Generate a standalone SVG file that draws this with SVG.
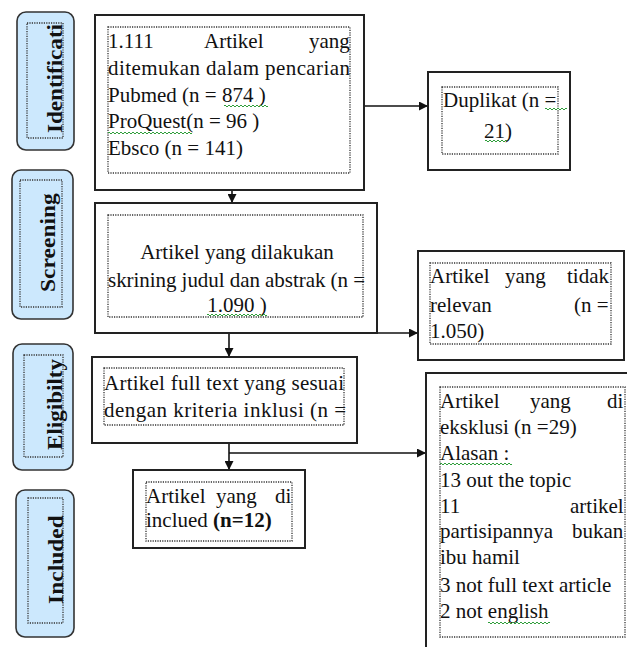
<svg xmlns="http://www.w3.org/2000/svg" width="627" height="647" viewBox="0 0 627 647">
<style>
.box{fill:#fff;stroke:#222;stroke-width:2}
.dot{fill:none;stroke:#333;stroke-width:1.3;stroke-dasharray:1.2 1.2}
.side{fill:#cce8fd;stroke:#333;stroke-width:1.6}
.t{font-family:"Liberation Serif","Times New Roman",serif;font-size:21px;fill:#111}
.lab{font-family:"Liberation Serif","Times New Roman",serif;font-size:21px;font-weight:bold;fill:#111}
.conn{stroke:#111;stroke-width:1.6;fill:none}
.sq{stroke:#2e9e3a;stroke-width:1;fill:none}
</style>
<defs>
<marker id="ah" viewBox="0 0 10 10" refX="10" refY="5" markerUnits="userSpaceOnUse" markerWidth="10" markerHeight="9" orient="auto">
<path d="M0,0 L10,5 L0,10 z" fill="#111"/>
</marker>
</defs>

<g id="label-identification">
<rect class="side" x="17" y="12" width="57" height="138" rx="9"/>
<rect class="dot" x="27" y="23" width="36" height="115"/>
<text class="lab" transform="translate(62,133) rotate(-90) scale(1.1,1)">Identificati</text>
</g>
<g id="label-screening">
<rect class="side" x="12" y="170" width="61" height="149" rx="9"/>
<rect class="dot" x="20" y="180" width="42" height="127"/>
<text class="lab" transform="translate(55,292) rotate(-90) scale(1.12,1)">Screening</text>
</g>
<g id="label-eligibility">
<rect class="side" x="13" y="344" width="60" height="126" rx="9"/>
<rect class="dot" x="24" y="355" width="39" height="102"/>
<text class="lab" transform="translate(62,450) rotate(-90) scale(1.1,1)">Eligibilty</text>
</g>
<g id="label-included">
<rect class="side" x="16" y="490" width="58" height="147" rx="9"/>
<rect class="dot" x="28" y="498" width="35" height="125"/>
<text class="lab" transform="translate(63,604) rotate(-90) scale(1.12,1)">Included</text>
</g>

<g id="connectors">
<line class="conn" x1="364" y1="106" x2="428" y2="106" marker-end="url(#ah)"/>
<line class="conn" x1="232" y1="190" x2="232" y2="203" marker-end="url(#ah)"/>
<line class="conn" x1="229" y1="317" x2="229" y2="357" marker-end="url(#ah)"/>
<line class="conn" x1="229" y1="333" x2="418" y2="333" marker-end="url(#ah)"/>
<line class="conn" x1="229" y1="443" x2="229" y2="470" marker-end="url(#ah)"/>
<line class="conn" x1="229" y1="453" x2="426" y2="453" marker-end="url(#ah)"/>
</g>

<g id="node-identified">
<rect class="box" x="95" y="15" width="269" height="175"/>
<rect class="dot" x="108" y="27" width="242" height="146"/>
<text class="t" y="48"><tspan x="108">1.111</tspan><tspan x="204">Artikel</tspan><tspan x="309">yang</tspan></text>
<text class="t" x="108" y="75" textLength="242" lengthAdjust="spacing">ditemukan dalam pencarian</text>
<text class="t" x="108" y="102">Pubmed (n = 874 )</text>
<text class="t" x="108" y="128">ProQuest(n = 96 )</text>
<text class="t" x="108" y="155">Ebsco  (n = 141)</text>
<path class="sq" d="M224,106 q1,-2 2,0 t2,0 t2,0 t2,0 t2,0 t2,0 t2,0 t2,0 t2,0 t2,0 t2,0 t2,0 t2,0 t2,0 t2,0 t2,0 t2,0 t2,0 t2,0 t2,0 t2,0 t2,0"/>
<path class="sq" d="M108,133 q1,-2 2,0 t2,0 t2,0 t2,0 t2,0 t2,0 t2,0 t2,0 t2,0 t2,0 t2,0 t2,0 t2,0 t2,0 t2,0 t2,0 t2,0 t2,0 t2,0 t2,0 t2,0 t2,0 t2,0 t2,0 t2,0 t2,0 t2,0 t2,0 t2,0 t2,0 t2,0 t2,0 t2,0 t2,0 t2,0 t2,0 t2,0 t2,0 t2,0 t2,0 t2,0 t2,0"/>
</g>

<g id="node-duplikat">
<rect class="box" x="428" y="72" width="142" height="98"/>
<rect class="dot" x="442" y="87" width="116" height="67"/>
<text class="t" x="443" y="107">Duplikat (n =</text>
<text class="t" x="498" y="138" text-anchor="middle">21)</text>
<path class="sq" d="M545,109 q1,-2 2,0 t2,0 t2,0 t2,0 t2,0 t2,0 t2,0 t2,0 t2,0 t2,0 t2,0"/>
<path class="sq" d="M485,141 q1,-2 2,0 t2,0 t2,0 t2,0 t2,0 t2,0 t2,0 t2,0 t2,0 t2,0 t2,0"/>
</g>

<g id="node-screening">
<rect class="box" x="95" y="203" width="282" height="130"/>
<rect class="dot" x="108" y="215" width="255" height="102"/>
<text class="t" x="237" y="259" text-anchor="middle">Artikel yang dilakukan</text>
<text class="t" x="108" y="287" textLength="257" lengthAdjust="spacing">skrining judul dan abstrak (n =</text>
<text class="t" x="237" y="312" text-anchor="middle">1.090 )</text>
<path class="sq" d="M207,315 q1,-2 2,0 t2,0 t2,0 t2,0 t2,0 t2,0 t2,0 t2,0 t2,0 t2,0 t2,0 t2,0 t2,0 t2,0 t2,0 t2,0 t2,0 t2,0 t2,0 t2,0 t2,0 t2,0 t2,0 t2,0 t2,0 t2,0 t2,0 t2,0 t2,0 t2,0"/>
</g>

<g id="node-irrelevant">
<rect class="box" x="418" y="251" width="206" height="109"/>
<rect class="dot" x="430" y="263" width="181" height="81"/>
<text class="t" y="283"><tspan x="430">Artikel</tspan><tspan x="505">yang</tspan><tspan x="567">tidak</tspan></text>
<text class="t" y="312"><tspan x="430">relevan</tspan><tspan x="574">(n =</tspan></text>
<text class="t" x="430" y="338">1.050)</text>
</g>

<g id="node-eligibility">
<rect class="box" x="92" y="357" width="265" height="86"/>
<rect class="dot" x="104" y="368" width="240" height="57"/>
<text class="t" x="104" y="390" textLength="240" lengthAdjust="spacing">Artikel full text yang sesuai</text>
<text class="t" x="104" y="417" textLength="242" lengthAdjust="spacing">dengan kriteria inklusi (n =</text>
</g>

<g id="node-included">
<rect class="box" x="133" y="470" width="172" height="78"/>
<rect class="dot" x="146" y="482" width="146" height="59"/>
<text class="t" y="503"><tspan x="146">Artikel</tspan><tspan x="216">yang</tspan><tspan x="275">di</tspan></text>
<text class="t" x="146" y="527">inclued <tspan font-weight="bold">(n=12)</tspan></text>
</g>

<g id="node-excluded">
<rect class="box" x="426" y="373" width="220" height="300"/>
<rect class="dot" x="440" y="387" width="185" height="250"/>
<text class="t" y="408"><tspan x="440">Artikel</tspan><tspan x="530">yang</tspan><tspan x="607">di</tspan></text>
<text class="t" x="440" y="434">eksklusi (n =29)</text>
<text class="t" x="440" y="460">Alasan :</text>
<text class="t" x="440" y="487">13 out the topic</text>
<text class="t" y="513"><tspan x="440">11</tspan><tspan x="570">artikel</tspan></text>
<text class="t" y="538"><tspan x="440">partisipannya</tspan><tspan x="572">bukan</tspan></text>
<text class="t" x="440" y="564">ibu hamil</text>
<text class="t" x="440" y="592">3 not full text article</text>
<text class="t" x="440" y="618">2 not english</text>
<path class="sq" d="M440,464 q1,-2 2,0 t2,0 t2,0 t2,0 t2,0 t2,0 t2,0 t2,0 t2,0 t2,0 t2,0 t2,0 t2,0 t2,0 t2,0 t2,0 t2,0 t2,0 t2,0 t2,0 t2,0 t2,0 t2,0 t2,0 t2,0 t2,0 t2,0 t2,0 t2,0 t2,0 t2,0 t2,0 t2,0 t2,0 t2,0 t2,0"/>
<path class="sq" d="M488,623 q1,-2 2,0 t2,0 t2,0 t2,0 t2,0 t2,0 t2,0 t2,0 t2,0 t2,0 t2,0 t2,0 t2,0 t2,0 t2,0 t2,0 t2,0 t2,0 t2,0 t2,0 t2,0 t2,0 t2,0 t2,0 t2,0 t2,0 t2,0 t2,0 t2,0 t2,0 t2,0"/>
</g>
</svg>
